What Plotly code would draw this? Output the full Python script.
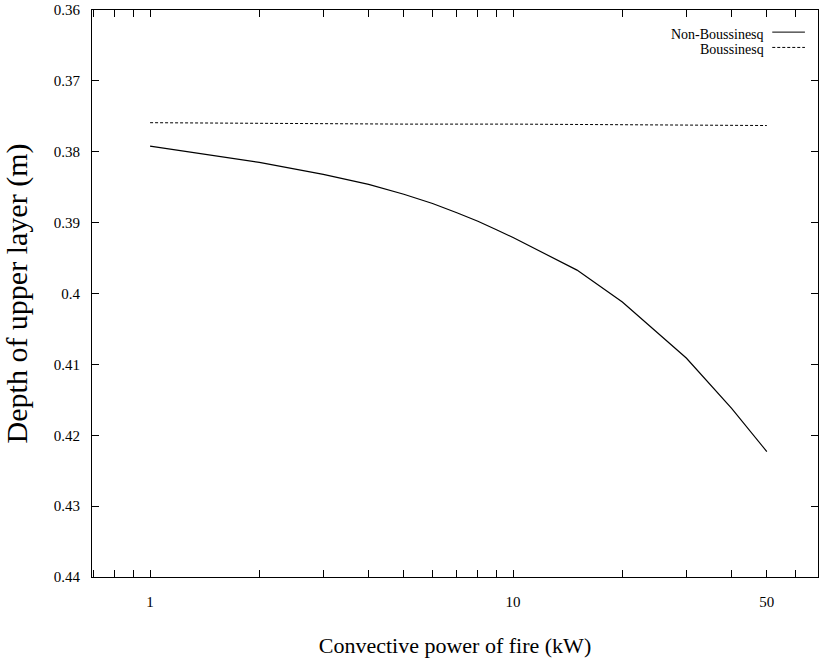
import plotly.graph_objects as go

# Data
power_kw = [1, 2, 3, 4, 5, 6, 7, 8, 9, 10, 15, 20, 30, 40, 50]
non_boussinesq = [0.3792, 0.3815, 0.3832, 0.3846, 0.3860, 0.3873, 0.3886, 0.3898, 0.3910,
                  0.3921, 0.3967, 0.4012, 0.4091, 0.4162, 0.4223]
boussinesq_x = [1, 2, 5, 10, 20, 50]
boussinesq = [0.3759, 0.3760, 0.3761, 0.3761, 0.3762, 0.3763]

x_tickvals = [0.7, 0.8, 0.9, 1, 2, 3, 4, 5, 6, 7, 8, 9, 10, 20, 30, 40, 50, 60]
x_ticklabels = {1: "1", 10: "10", 50: "50"}
y_tickvals = [0.36, 0.37, 0.38, 0.39, 0.40, 0.41, 0.42, 0.43, 0.44]
y_ticktext = ["0.36", "0.37", "0.38", "0.39", "0.4", "0.41", "0.42", "0.43", "0.44"]

FONT = "Liberation Serif, Times New Roman, DejaVu Serif, serif"

fig = go.Figure()
fig.add_trace(go.Scatter(x=power_kw, y=non_boussinesq, mode="lines",
                         line=dict(color="black", width=1.2), name="Non-Boussinesq",
                         showlegend=False))
fig.add_trace(go.Scatter(x=boussinesq_x, y=boussinesq, mode="lines",
                         line=dict(color="black", width=1, dash="3px,2px"), name="Boussinesq",
                         showlegend=False))

# Legend drawn as annotations with sample lines on the right
legend_items = [("Non-Boussinesq", "solid", 0.957), ("Boussinesq", "3px,2px", 0.930)]
for label, dash, ypos in legend_items:
    fig.add_annotation(xref="paper", yref="paper", x=0.927, y=ypos, text=label,
                       showarrow=False, xanchor="right", yanchor="middle",
                       borderpad=0, font=dict(family=FONT, size=14, color="black"))
    fig.add_shape(type="line", xref="paper", yref="paper", x0=0.937, x1=0.982,
                  y0=ypos + 0.004, y1=ypos + 0.004, line=dict(color="black", width=1, dash=dash))

fig.update_xaxes(type="log", range=[-0.16, 1.84],
                 tickvals=x_tickvals,
                 ticktext=[x_ticklabels.get(v, "") for v in x_tickvals],
                 ticks="inside", ticklen=7, tickwidth=1, tickcolor="black",
                 showline=True, linecolor="black", linewidth=1.2, mirror="ticks",
                 showgrid=False, zeroline=False, ticklabelstandoff=11,
                 tickfont=dict(family=FONT, size=15, color="black"),
                 title=dict(text="Convective power of fire (kW)", standoff=28,
                            font=dict(family=FONT, size=22, color="black")))
fig.update_yaxes(range=[0.44, 0.36], tickvals=y_tickvals, ticktext=y_ticktext,
                 ticks="inside", ticklen=7, tickwidth=1, tickcolor="black",
                 showline=True, linecolor="black", linewidth=1.2, mirror="ticks",
                 showgrid=False, zeroline=False, ticklabelstandoff=8,
                 tickfont=dict(family=FONT, size=15, color="black"),
                 title=dict(text="Depth of upper layer (m)", standoff=20,
                            font=dict(family=FONT, size=30, color="black")))

fig.update_layout(width=819, height=665, margin=dict(l=92, r=1, t=10, b=88),
                  plot_bgcolor="white", paper_bgcolor="white",
                  font=dict(family=FONT, color="black"))

fig.write_html("out.html")
